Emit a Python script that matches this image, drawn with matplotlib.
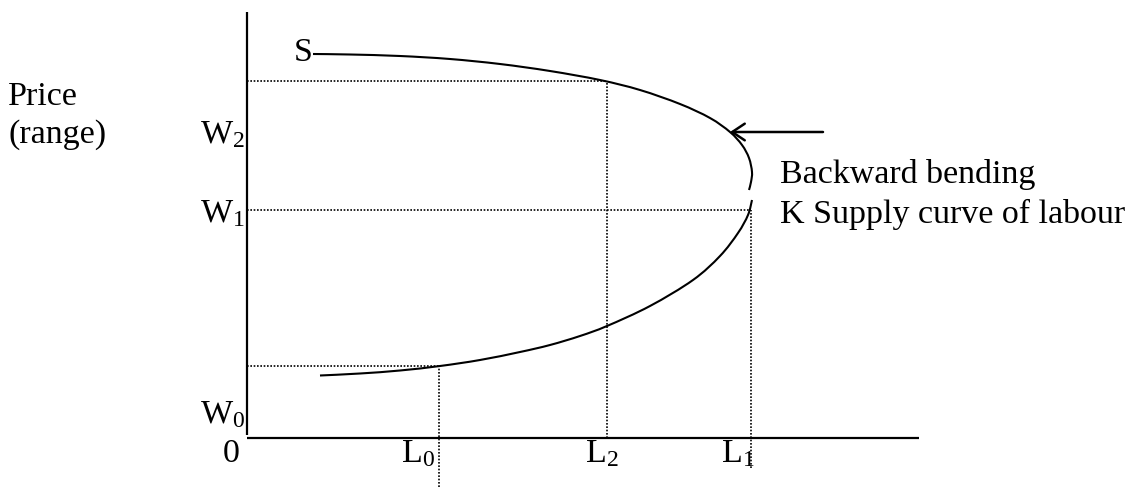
import matplotlib
matplotlib.use("Agg")
import matplotlib.pyplot as plt
from matplotlib.path import Path
from matplotlib.patches import PathPatch

plt.rcParams['font.family'] = ['Liberation Serif', 'DejaVu Serif']
plt.rcParams['mathtext.fontset'] = 'custom'
plt.rcParams['mathtext.rm'] = 'Liberation Serif'
plt.rcParams['mathtext.it'] = 'Liberation Serif:italic'

# ---- data (quantity of labour L, wage W), origin at axes corner ----
upper_L = [66, 103, 153, 203, 253, 303, 353, 393, 433, 463, 483, 495, 502, 505, 504, 502]
upper_W = [384, 383.5, 382, 379, 374, 367, 358, 348, 334, 320, 306, 293, 280, 266, 256, 248]
lower_L = [73, 113, 153, 193, 233, 273, 303, 333, 360, 403, 446, 473, 491, 501, 505]
lower_W = [62.5, 64.5, 67.5, 72, 78, 86, 93, 102, 112, 132, 158, 182, 205, 223, 238]

L_vals = {'L0': 192, 'L2': 360, 'L1': 504}
W_vals = {'top': 357, 'W1': 228, 'low': 72}

x_tick_labels = [r'$\mathrm{L_0}$', r'$\mathrm{L_2}$', r'$\mathrm{L_1}$']
x_tick_pos = [170, 354, 490]
y_tick_labels = [r'$\mathrm{W_2}$', r'$\mathrm{W_1}$', r'$\mathrm{W_0}$']
y_tick_pos = [295, 216, 15]


def smooth_path(xs, ys):
    """Bezier path passing through the given points (Catmull-Rom style handles)."""
    pts = list(zip(xs, ys))
    verts = [pts[0]]
    codes = [Path.MOVETO]
    n = len(pts)
    for i in range(n - 1):
        p0 = pts[i - 1] if i > 0 else pts[i]
        p1 = pts[i]
        p2 = pts[i + 1]
        p3 = pts[i + 2] if i + 2 < n else pts[i + 1]
        c1 = (p1[0] + (p2[0] - p0[0]) / 6, p1[1] + (p2[1] - p0[1]) / 6)
        c2 = (p2[0] - (p3[0] - p1[0]) / 6, p2[1] - (p3[1] - p1[1]) / 6)
        verts += [c1, c2, p2]
        codes += [Path.CURVE4] * 3
    return Path(verts, codes)


fig = plt.figure(figsize=(11.39, 4.87), dpi=100)
ax = fig.add_axes([0, 0, 1, 1])
ax.set_xlim(-247, 892)
ax.set_ylim(-49, 438)
ax.axis('off')

FS = 24.5

# axes
ax.plot([0, 0], [3, 426], color='black', lw=1.6, solid_capstyle='butt')
ax.plot([0, 672], [0, 0], color='black', lw=1.6, solid_capstyle='butt')

# dotted guide lines
dot = dict(color='black', lw=1.2, linestyle=(0, (1, 1.0)))
ax.plot([0, L_vals['L2']], [W_vals['top']] * 2, **dot)
ax.plot([L_vals['L2']] * 2, [0, W_vals['top']], **dot)
ax.plot([0, L_vals['L1']], [W_vals['W1']] * 2, **dot)
ax.plot([L_vals['L1']] * 2, [-30, W_vals['W1']], **dot)
ax.plot([0, L_vals['L0']], [W_vals['low']] * 2, **dot)
ax.plot([L_vals['L0']] * 2, [-49, W_vals['low']], **dot)

# supply curve (two branches)
for xs, ys in ((upper_L, upper_W), (lower_L, lower_W)):
    ax.add_patch(PathPatch(smooth_path(xs, ys), facecolor='none',
                           edgecolor='black', lw=1.5, capstyle='butt'))

# arrow
ax.annotate('', xy=(483, 306), xytext=(576, 306),
            arrowprops=dict(arrowstyle='->, head_length=0.45, head_width=0.3',
                            lw=1.8, color='black', mutation_scale=20,
                            shrinkA=0, shrinkB=0))

# labels
ax.text(66, 385, 'S', fontsize=FS, ha='right', va='center')
ax.text(-239, 333, 'Price', fontsize=FS, ha='left', va='baseline')
ax.text(-239, 295, '(range)', fontsize=FS, ha='left', va='baseline')
for lab, yp in zip(y_tick_labels, y_tick_pos):
    ax.text(-47, yp, lab, fontsize=FS, ha='left', va='baseline')
ax.text(-7, -24, '0', fontsize=FS, ha='right', va='baseline')
for lab, xp in zip(x_tick_labels, x_tick_pos):
    ax.text(xp - 16, -24, lab, fontsize=FS, ha='left', va='baseline')
ax.text(533, 255, 'Backward bending', fontsize=FS, ha='left', va='baseline')
ax.text(533, 215, 'K Supply curve of labour', fontsize=FS, ha='left', va='baseline')

fig.savefig('out.png', dpi=100)
